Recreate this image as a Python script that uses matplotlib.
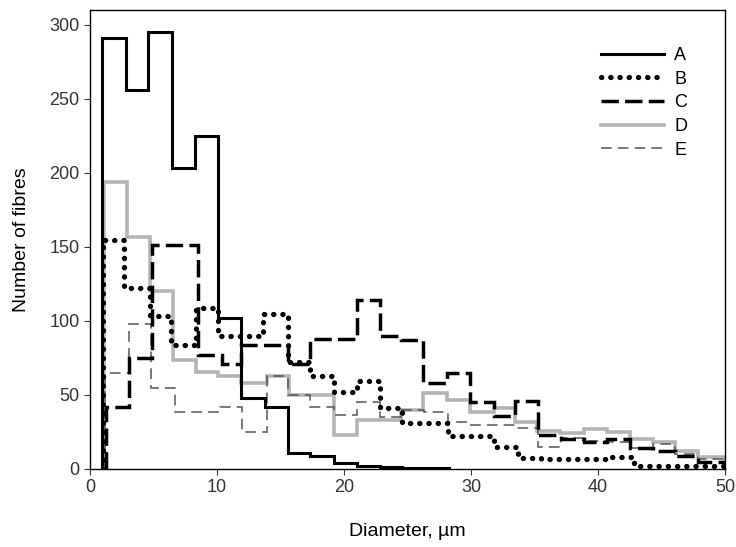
import numpy as np
import matplotlib.pyplot as plt
from matplotlib.lines import Line2D

plt.rcParams['font.family'] = ['Liberation Sans', 'DejaVu Sans']

# bin edges (diameter, um), one list per sample
edges_a = [0.95, 2.8, 4.6, 6.45, 8.3, 10.1, 11.9, 13.8, 15.6, 17.35, 19.2, 21.0,
           22.8, 24.6, 26.4, 28.3]
edges_b = [1.0, 2.7, 4.7, 6.4, 8.37, 10.1, 11.9, 13.65, 15.6, 17.3, 19.2, 21.0,
           22.8, 24.6, 26.4, 28.2, 30.0, 31.8, 33.7, 35.5, 37.3, 39.1, 40.9,
           42.8, 44.6, 46.4, 48.2, 50.0]
edges_c = [1.28, 3.1, 4.85, 6.67, 8.5, 10.4, 11.9, 13.8, 15.6, 17.3, 19.2, 21.0,
           22.8, 24.5, 26.2, 28.1, 29.9, 31.8, 33.5, 35.3, 37.1, 38.9, 40.7,
           42.5, 44.3, 46.1, 47.9, 50.0]
edges_d = [1.1, 2.94, 4.7, 6.5, 8.37, 10.1, 11.9, 13.9, 15.7, 17.5, 19.2, 21.0,
           22.8, 24.5, 26.2, 28.1, 29.9, 31.8, 33.5, 35.2, 37.0, 38.9, 40.7,
           42.5, 44.3, 46.1, 47.9, 50.0]
edges_e = [1.15, 3.05, 4.8, 6.67, 8.4, 10.2, 12.0, 13.9, 15.6, 17.3, 19.2, 21.0,
           22.8, 24.5, 26.3, 28.2, 29.9, 31.8, 33.5, 35.3, 37.1, 38.9, 40.7,
           42.5, 44.3, 46.1, 47.9, 50.0]

# number of fibres per bin
counts_a = [291, 256, 295, 203, 225, 102, 48, 42, 10.5, 9, 4, 2, 1.5, 1, 0.8]
counts_b = [155, 122, 103, 84, 109, 90, 90, 105, 72, 63, 52, 59.5, 41, 31, 31,
            22, 22, 15, 7.2, 6.5, 6.5, 7, 8.3, 2, 2, 2, 2]
counts_c = [42, 75, 151, 151, 77, 71, 84, 84, 71, 88, 88, 114, 90, 87, 58, 65,
            45, 36, 46, 23, 20, 18, 20, 14, 12, 9, 5]
counts_d = [194, 157, 120, 73.5, 65.6, 62.7, 57.8, 62.7, 50, 50, 23, 33, 33, 40,
            51, 46.5, 38.6, 41, 32, 26, 24, 27, 25, 20, 18, 12, 8]
counts_e = [64.5, 98, 54.4, 38.6, 38.6, 42, 25, 62.7, 50, 42, 36.4, 45.4, 35,
            40, 38.6, 32, 30, 30, 27.6, 15, 21, 19, 18, 14, 17, 10, 7]

labels = ['A', 'B', 'C', 'D', 'E']

fig = plt.figure(figsize=(7.36, 5.47), dpi=100)
ax = fig.add_axes([0.1223, 0.1426, 0.8627, 0.8391])

styles = [
    dict(color='black', lw=2.2, ls='-'),
    dict(color='black', lw=3.8, ls=(0, (0.05, 1.7)), capstyle='round'),
    dict(color='black', lw=2.5, ls=(0, (5, 1.8))),
    dict(color='#b4b4b4', lw=2.6, ls='-'),
    dict(color='#555555', lw=1.1, ls=(0, (7, 4))),
]
series = [(edges_a, counts_a), (edges_b, counts_b), (edges_c, counts_c),
          (edges_d, counts_d), (edges_e, counts_e)]

# draw in back-to-front order like the original
for i in [3, 4, 2, 1, 0]:
    e, c = series[i]
    st = styles[i]
    kw = dict(edgecolor=st['color'], linewidth=st['lw'], linestyle=st['ls'])
    patch = ax.stairs(c, e, baseline=0, fill=False, **kw)
    if 'capstyle' in st:
        patch.set_capstyle(st['capstyle'])
    patch.set_joinstyle('miter')

handles = []
for st in styles:
    h = Line2D([], [], color=st['color'], lw=st['lw'], ls=st['ls'])
    if 'capstyle' in st:
        h.set_dash_capstyle(st['capstyle'])
    handles.append(h)

leg = ax.legend(handles, labels, loc='upper right', frameon=False,
                fontsize=13, handlelength=3.5, handletextpad=0.55,
                labelspacing=0.37, bbox_to_anchor=(0.966, 0.955))

ax.set_xlim(0, 50)
ax.set_ylim(0, 310)
ax.set_xticks([0, 10, 20, 30, 40, 50])
ax.set_yticks([0, 50, 100, 150, 200, 250, 300])
ax.tick_params(direction='out', length=4, labelsize=13, colors='#333333')
ax.set_xlabel('Diameter, \u00b5m', fontsize=14, labelpad=19)
ax.set_ylabel('Number of fibres', fontsize=14, labelpad=14)
for s in ax.spines.values():
    s.set_linewidth(1.0)

fig.savefig('out.png', dpi=100)
